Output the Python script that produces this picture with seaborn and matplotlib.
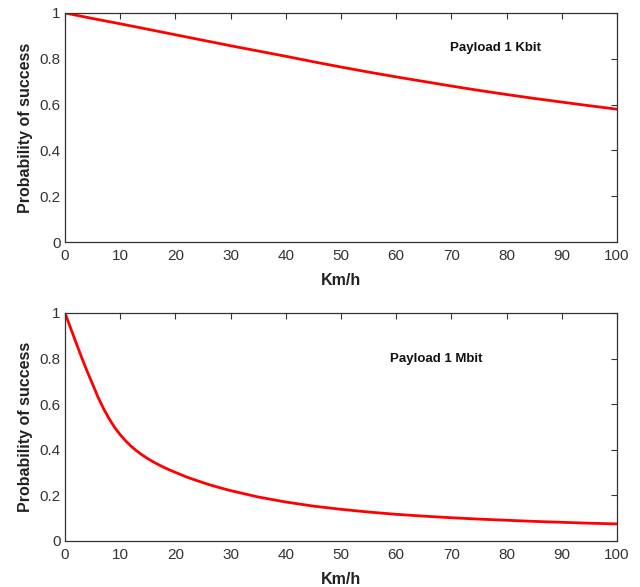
import matplotlib
matplotlib.use("Agg")
import matplotlib.pyplot as plt
import numpy as np
import pandas as pd
import seaborn as sns

# values
speed_kbit = [0, 5, 10, 15, 20, 25, 30, 35, 40, 45, 50,
              55, 60, 65, 70, 75, 80, 85, 90, 95, 100]
prob_kbit = [1.0, 0.976, 0.953, 0.929, 0.905, 0.881, 0.857, 0.834, 0.811, 0.787, 0.764,
             0.742, 0.721, 0.701, 0.681, 0.662, 0.644, 0.627, 0.611, 0.595, 0.580]

speed_mbit = [0, 1, 2, 3, 4, 5, 6, 7, 8, 9, 10, 11, 12, 13, 14, 15, 16, 17, 18, 19,
              20, 22, 24, 26, 28, 30, 35, 40, 45, 50, 55, 60, 65, 70, 75, 80, 85,
              90, 95, 100]
prob_mbit = [1.0, 0.935, 0.870, 0.806, 0.745, 0.688, 0.630, 0.580, 0.536, 0.498,
             0.466, 0.439, 0.415, 0.395, 0.377, 0.361, 0.347, 0.334, 0.322, 0.311,
             0.301, 0.281, 0.264, 0.248, 0.234, 0.221, 0.193, 0.171, 0.153, 0.139,
             0.127, 0.117, 0.109, 0.102, 0.096, 0.091, 0.086, 0.082, 0.078, 0.075]

xticks = [0, 10, 20, 30, 40, 50, 60, 70, 80, 90, 100]
yticks = [0, 0.2, 0.4, 0.6, 0.8, 1]
ytick_labels = ["0", "0.2", "0.4", "0.6", "0.8", "1"]

sns.set_style("white")
plt.rcParams['font.family'] = ['Liberation Sans', 'DejaVu Sans']

df_k = pd.DataFrame({"speed": speed_kbit, "prob": prob_kbit})
df_m = pd.DataFrame({"speed": speed_mbit, "prob": prob_mbit})

fig = plt.figure(figsize=(6.4, 5.87), dpi=100)
ax1 = fig.add_axes([65 / 640, 1 - 242 / 587, 552 / 640, 229 / 587])
ax2 = fig.add_axes([65 / 640, 1 - 541 / 587, 552 / 640, 228 / 587])

panels = [(ax1, df_k, "Payload 1 Kbit", 77.9, 0.847),
          (ax2, df_m, "Payload 1 Mbit", 67.2, 0.80)]

for ax, df, label, tx, ty in panels:
    sns.lineplot(data=df, x="speed", y="prob", ax=ax, color="#ff0000", linewidth=2)
    ax.set_xlim(0, 100)
    ax.set_ylim(0, 1)
    ax.set_xticks(xticks)
    ax.set_yticks(yticks)
    ax.set_yticklabels(ytick_labels)
    ax.tick_params(direction="in", top=True, right=True, length=4, width=0.8,
                   labelsize=11, colors="#333333", labelcolor="#333333")
    ax.tick_params(axis="x", pad=5)
    ax.tick_params(axis="y", pad=3)
    for s in ax.spines.values():
        s.set_color("#333333")
        s.set_linewidth(0.9)
    ax.set_xlabel("Km/h", fontsize=11.5, fontweight="bold", color="#222222", labelpad=7)
    ax.set_ylabel("Probability of success", fontsize=11.5, fontweight="bold",
                  color="#222222", labelpad=5)
    ax.text(tx, ty, label, fontsize=9.5, fontweight="bold", ha="center", va="center",
            color="#111111")

fig.savefig("out.png", dpi=100)
